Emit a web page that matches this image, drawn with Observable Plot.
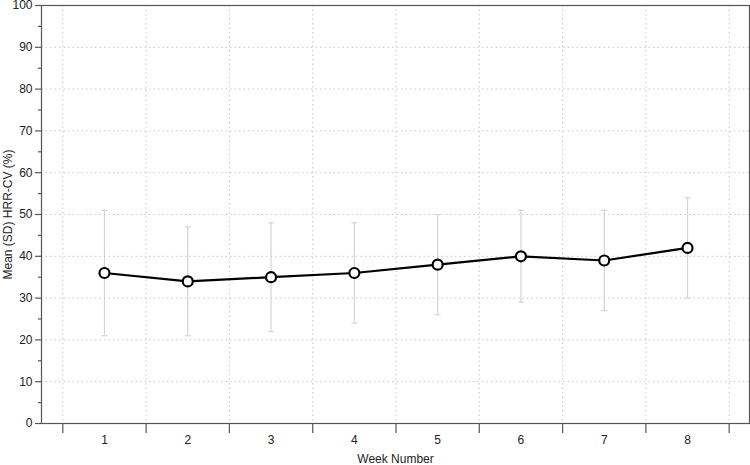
<!DOCTYPE html>
<html>
<head>
<meta charset="utf-8">
<script src="https://cdn.jsdelivr.net/npm/d3@7"></script>
<script src="https://cdn.jsdelivr.net/npm/@observablehq/plot@0.6"></script>
<style>
  html, body { margin: 0; padding: 0; background: #fff; }
  #chart svg { display: block; overflow: visible; }
</style>
</head>
<body>
<div id="chart"></div>
<script>
const weeks = [1, 2, 3, 4, 5, 6, 7, 8];
const meanValues = [36, 34, 35, 36, 38, 40, 39, 42];
const sdLower = [21, 21, 22, 24, 26, 29, 27, 30];
const sdUpper = [51, 47, 48, 48, 50, 51, 51, 54];
const yTicks = [0, 10, 20, 30, 40, 50, 60, 70, 80, 90, 100];
const yMinorTicks = [5, 15, 25, 35, 45, 55, 65, 75, 85, 95];
const xBoundaries = [0.5, 1.5, 2.5, 3.5, 4.5, 5.5, 6.5, 7.5, 8.5];
const xLabel = "Week Number";
const yLabel = "Mean (SD) HRR-CV (%)";

const data = weeks.map((w, i) => ({week: w, mean: meanValues[i], lo: sdLower[i], hi: sdUpper[i]}));
const capHalf = 0.035;
const caps = data.flatMap(d => [{week: d.week, v: d.lo}, {week: d.week, v: d.hi}]);

const axisColor = "#555";
const gridColor = "#c8c8c8";
const errColor = "#d4d4d4";

const chart = Plot.plot({
  width: 750,
  height: 465,
  marginLeft: 41,
  marginRight: 1,
  marginTop: 5,
  marginBottom: 42,
  style: {fontFamily: "'Liberation Sans', Arial, Helvetica, sans-serif", fontSize: "12px", color: "#222", background: "#fff"},
  x: {type: "linear", domain: [0.244, 8.744], axis: null},
  y: {domain: [0, 100], axis: null},
  marks: [
    Plot.gridY(yTicks.slice(1, -1), {stroke: gridColor, strokeOpacity: 1, strokeDasharray: "1.5,3", strokeWidth: 1}),
    Plot.gridX(xBoundaries, {stroke: gridColor, strokeOpacity: 1, strokeDasharray: "1.5,3", strokeWidth: 1}),
    Plot.frame({stroke: axisColor, strokeWidth: 1.2}),
    Plot.axisY(yTicks, {tickSize: 6, tickPadding: 3, stroke: axisColor, strokeWidth: 1.2, fill: "#222", fontSize: 12, label: null}),
    Plot.axisY(yMinorTicks, {tickSize: 3, text: null, stroke: axisColor, strokeWidth: 1.2, label: null}),
    Plot.axisX(xBoundaries, {tickSize: 10, text: null, stroke: axisColor, strokeWidth: 1.2, label: null}),
    Plot.axisX(weeks, {tickSize: 0, tickPadding: 12, fill: "#222", fontSize: 12, label: null, tickFormat: d => String(d)}),
    Plot.ruleX(data, {x: "week", y1: "lo", y2: "hi", stroke: errColor, strokeWidth: 1.2}),
    Plot.link(caps, {x1: d => d.week - capHalf, x2: d => d.week + capHalf, y1: "v", y2: "v", stroke: errColor, strokeWidth: 1.2}),
    Plot.line(data, {x: "week", y: "mean", stroke: "#000", strokeWidth: 2.2}),
    Plot.dot(data, {x: "week", y: "mean", r: 5, fill: "#fff", stroke: "#000", strokeWidth: 2.2}),
    Plot.text([xLabel], {frameAnchor: "bottom", dy: 39, fontSize: 12, fill: "#222", text: d => d}),
    Plot.text([yLabel], {frameAnchor: "left", dx: -33, rotate: -90, textAnchor: "middle", fontSize: 12, fill: "#222", text: d => d})
  ]
});
document.getElementById("chart").appendChild(chart);
</script>
</body>
</html>
